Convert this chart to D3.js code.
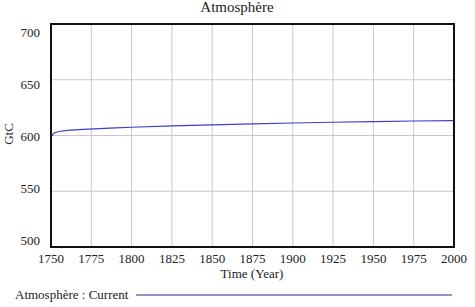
<!DOCTYPE html>
<html>
<head>
<meta charset="utf-8">
<script src="https://cdn.jsdelivr.net/npm/d3@7"></script>
<style>
  body { margin: 0; background: #fff; }
  text { font-family: "Liberation Serif", "DejaVu Serif", serif; fill: #222; }
</style>
</head>
<body>
<svg id="chart" width="475" height="307"></svg>
<script>
// values
var years = [1750, 1751, 1752, 1755, 1760, 1770, 1780, 1790, 1800, 1825, 1850, 1875, 1900, 1925, 1950, 1975, 2000];
var atmosphere = [598.5, 600.8, 602.2, 603.6, 604.6, 605.5, 606.2, 606.8, 607.4, 608.6, 609.6, 610.5, 611.2, 611.9, 612.5, 613.0, 613.3];
var xTicks = [1750, 1775, 1800, 1825, 1850, 1875, 1900, 1925, 1950, 1975, 2000];
var yTicks = [500, 550, 600, 650, 700];

var svg = d3.select('#chart');
var plot = {l: 51, r: 454, t: 24, b: 247};

var x = d3.scaleLinear().domain([1750, 2000]).range([plot.l, plot.r]);
var y = d3.scaleLinear().domain([500, 700]).range([plot.b, plot.t]);
// Vensim spreads the y labels a little inside the frame
var yLab = d3.scaleLinear().domain([500, 700]).range([240, 32]);

// grid
svg.append('g').selectAll('line').data(xTicks.slice(1, -1)).enter().append('line')
  .attr('x1', d => x(d)).attr('x2', d => x(d))
  .attr('y1', plot.t).attr('y2', plot.b)
  .attr('stroke', '#c8c8c8').attr('stroke-width', 1);
svg.append('g').selectAll('line').data(yTicks.slice(1, -1)).enter().append('line')
  .attr('x1', plot.l).attr('x2', plot.r)
  .attr('y1', d => y(d)).attr('y2', d => y(d))
  .attr('stroke', '#c8c8c8').attr('stroke-width', 1);

// series line
var line = d3.line().x((d, i) => x(years[i])).y(d => y(d));
svg.append('path').datum(atmosphere)
  .attr('d', line)
  .attr('fill', 'none')
  .attr('stroke', '#3d3dd0')
  .attr('stroke-width', 1.2);

// frame
svg.append('rect')
  .attr('x', plot.l).attr('y', plot.t)
  .attr('width', plot.r - plot.l).attr('height', plot.b - plot.t)
  .attr('fill', 'none').attr('stroke', '#111').attr('stroke-width', 2);

// tick labels
svg.append('g').selectAll('text').data(yTicks).enter().append('text')
  .attr('x', 40).attr('y', d => yLab(d) + 4.5)
  .attr('text-anchor', 'end').attr('font-size', 13)
  .text(d => d);
svg.append('g').selectAll('text').data(xTicks).enter().append('text')
  .attr('x', d => x(d)).attr('y', 263)
  .attr('text-anchor', 'middle').attr('font-size', 13)
  .text(d => d);

// titles
svg.append('text').attr('x', 237).attr('y', 12)
  .attr('text-anchor', 'middle').attr('font-size', 15)
  .text('Atmosphère');
svg.append('text').attr('x', 252).attr('y', 278)
  .attr('text-anchor', 'middle').attr('font-size', 13)
  .text('Time (Year)');
svg.append('text')
  .attr('transform', 'translate(13,134) rotate(-90)')
  .attr('text-anchor', 'middle').attr('font-size', 13)
  .text('GtC');

// legend
svg.append('text').attr('x', 15).attr('y', 299)
  .attr('font-size', 13)
  .text('Atmosphère : Current');
svg.append('line')
  .attr('x1', 136).attr('x2', 452)
  .attr('y1', 295).attr('y2', 295)
  .attr('stroke', '#2b2b85').attr('stroke-width', 1.2);
</script>
</body>
</html>
